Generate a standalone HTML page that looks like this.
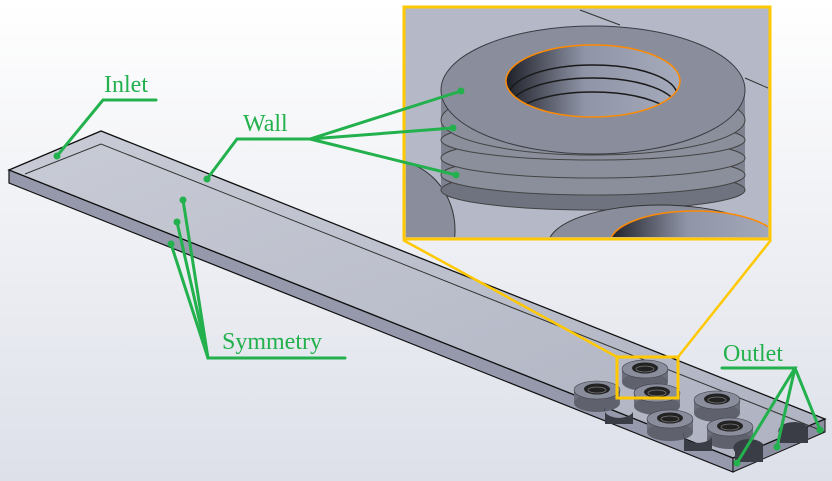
<!DOCTYPE html>
<html><head><meta charset="utf-8"><style>
html,body{margin:0;padding:0;width:832px;height:481px;overflow:hidden;background:#eceef3}
svg{display:block}
text{font-family:"Liberation Serif",serif;fill:#22b14c}
</style></head><body>
<svg width="832" height="481" viewBox="0 0 832 481" xmlns="http://www.w3.org/2000/svg">
<defs>
<linearGradient id="bg" x1="0" y1="0" x2="0" y2="1"><stop offset="0" stop-color="#ffffff"/><stop offset="1" stop-color="#dde0e9"/></linearGradient>
<linearGradient id="top" x1="0" y1="0" x2="1" y2="1"><stop offset="0" stop-color="#c9ccd6"/><stop offset="1" stop-color="#aeb2c1"/></linearGradient>
<linearGradient id="hole" x1="0" y1="0" x2="1" y2="0"><stop offset="0" stop-color="#1e2028"/><stop offset="0.45" stop-color="#8f94a6"/><stop offset="1" stop-color="#a6abbc"/></linearGradient>
<clipPath id="hc"><ellipse cx="593" cy="81" rx="87" ry="36"/></clipPath>
<g id="ring">
 <rect x="-23" y="0" width="46" height="13" fill="#6c6f7b"/>
 <ellipse cx="0" cy="13" rx="23" ry="9" fill="#5f626d"/>
 <ellipse cx="0" cy="0" rx="23" ry="9" fill="#8a8e9c" stroke="#3a3c44" stroke-width="0.6"/>
 <ellipse cx="0" cy="-1" rx="13" ry="5.5" fill="#222"/>
 <ellipse cx="0" cy="0" rx="9" ry="3" fill="none" stroke="#777" stroke-width="0.8"/>
</g>
</defs>
<rect width="832" height="481" fill="url(#bg)"/>
<polygon points="9,170 733,458 733,472 9,183" fill="#9599ab" stroke="#111" stroke-width="1.2"/>
<polygon points="733,458 825,419 825,432 733,472" fill="#8a8ea0" stroke="#111" stroke-width="1"/>
<polygon points="9,170 101,131 825,419 733,458" fill="url(#top)" stroke="#111" stroke-width="1.3"/>
<polyline points="25,174 101,144 825,432" fill="none" stroke="#333" stroke-width="1"/>
<use href="#ring" x="597" y="390"/>
<use href="#ring" x="645" y="369"/>
<use href="#ring" x="657" y="393"/>
<use href="#ring" x="717" y="400"/>
<use href="#ring" x="670" y="419"/>
<use href="#ring" x="730" y="427"/>
<g fill="#3a3c46">
<path d="M605 407 a14 8 0 0 0 28 5 v12 h-28z"/>
<path d="M684 432 a14 8 0 0 0 28 5 v14 h-28z"/>
<path d="M735 452 a14 8 0 0 1 28 -8 v18 h-28z"/>
<path d="M780 435 a14 8 0 0 1 28 -8 v16 h-28z"/>
</g>
<polyline points="403,240 617,357" stroke="#ffc800" stroke-width="2.5" fill="none"/>
<polyline points="771,240 678,357" stroke="#ffc800" stroke-width="2.5" fill="none"/>
<rect x="617" y="357" width="61" height="41" fill="none" stroke="#ffc800" stroke-width="3"/>
<rect x="404" y="7" width="366" height="232" fill="#b5b9c7" stroke="#ffc800" stroke-width="3"/>
<svg x="406" y="9" width="362" height="228" viewBox="406 9 362 228">
 <line x1="580" y1="10" x2="620" y2="25" stroke="#333"/>
 <line x1="745" y1="78" x2="768" y2="88" stroke="#333"/>
 <ellipse cx="390" cy="230" rx="65" ry="70" fill="#8a8e9c" stroke="#333"/>
 <rect x="441" y="90" width="304" height="100" fill="#7e8290"/>
 <ellipse cx="593" cy="190" rx="152" ry="20" fill="#6f7380" stroke="#444"/>
 <ellipse cx="593" cy="175" rx="152" ry="20" fill="#8b8f9c" stroke="#444"/>
 <ellipse cx="593" cy="158" rx="152" ry="20" fill="#8b8f9c" stroke="#444"/>
 <ellipse cx="593" cy="140" rx="152" ry="20" fill="#8b8f9c" stroke="#444"/>
 <ellipse cx="593" cy="120" rx="152" ry="35" fill="#8b8f9c" stroke="#444"/>
 <ellipse cx="593" cy="90" rx="152" ry="64" fill="#8a8e9c" stroke="#3a3c44"/>
 <ellipse cx="593" cy="81" rx="87" ry="36" fill="url(#hole)"/>
 <g clip-path="url(#hc)" fill="none" stroke="#1a1a1a" stroke-width="1.5">
  <ellipse cx="593" cy="95" rx="84" ry="30"/>
  <ellipse cx="593" cy="108" rx="84" ry="30"/>
  <ellipse cx="593" cy="122" rx="84" ry="30"/>
 </g>
 <ellipse cx="593" cy="81" rx="87" ry="36" fill="none" stroke="#ff8a00" stroke-width="1.5"/>
 <ellipse cx="660" cy="245" rx="112" ry="40" fill="#8a8e9c" stroke="#333"/>
 <ellipse cx="695" cy="243" rx="85" ry="32" fill="url(#hole)" stroke="#ff8a00" stroke-width="1.5"/>
</svg>
<g stroke="#22b14c" stroke-width="3" fill="none" stroke-linecap="round">
 <polyline points="156,100 103,100 57,156"/>
 <polyline points="310,139 237,139 207,179"/>
 <line x1="310" y1="139" x2="461" y2="91"/>
 <line x1="310" y1="139" x2="453" y2="128"/>
 <line x1="310" y1="139" x2="456" y2="175"/>
 <polyline points="345,358 208,358 183,200"/>
 <line x1="208" y1="358" x2="177" y2="222"/>
 <line x1="208" y1="358" x2="171" y2="244"/>
 <polyline points="722,368 795,368 737,463"/>
 <line x1="795" y1="368" x2="777" y2="447"/>
 <line x1="795" y1="368" x2="820" y2="430"/>
</g>
<g fill="#22b14c">
 <circle cx="57" cy="156" r="3.5"/><circle cx="207" cy="179" r="3.5"/>
 <circle cx="461" cy="91" r="3.5"/><circle cx="453" cy="128" r="3.5"/><circle cx="456" cy="175" r="3.5"/>
 <circle cx="183" cy="200" r="3.5"/><circle cx="177" cy="222" r="3.5"/><circle cx="171" cy="244" r="3.5"/>
 <circle cx="737" cy="463" r="3.5"/><circle cx="777" cy="447" r="3.5"/><circle cx="820" cy="430" r="3.5"/>
</g>
<text x="104" y="92" font-size="24">Inlet</text>
<text x="243" y="131" font-size="24">Wall</text>
<text x="222" y="349" font-size="24">Symmetry</text>
<text x="723" y="361" font-size="24">Outlet</text>
</svg>
</body></html>
